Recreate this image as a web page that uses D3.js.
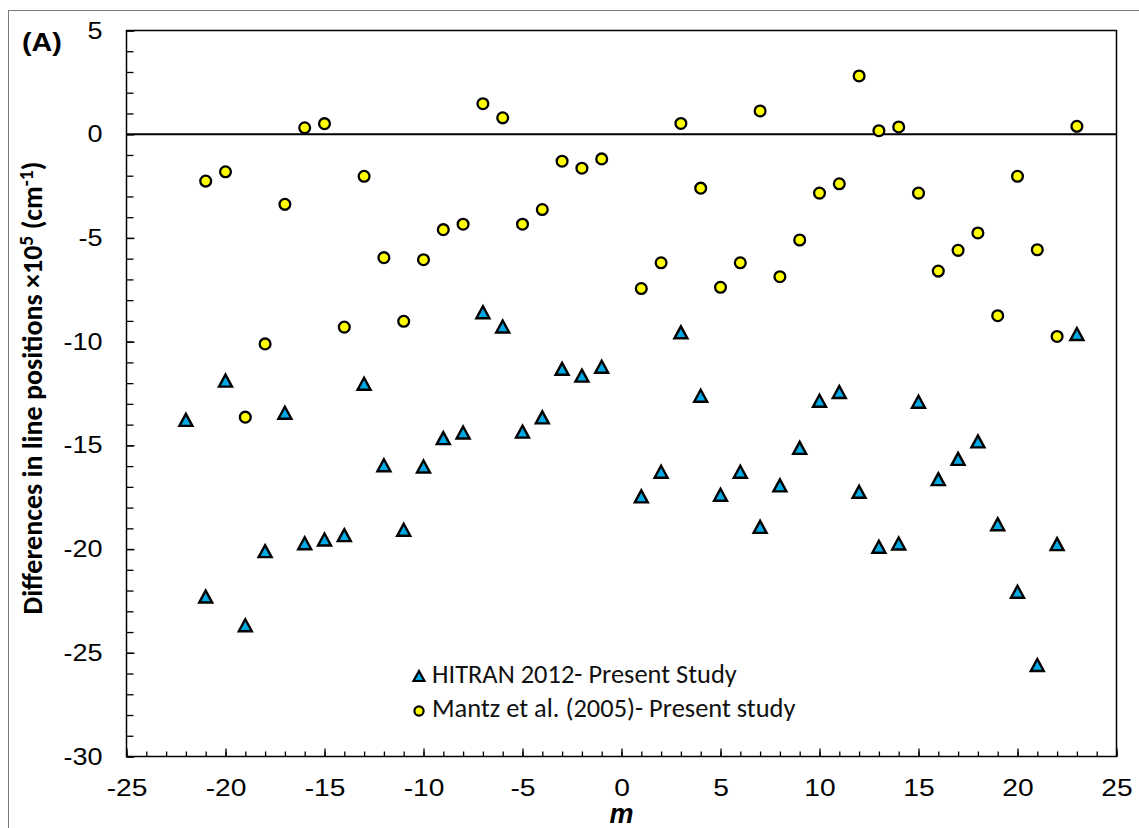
<!DOCTYPE html>
<html>
<head>
<meta charset="utf-8">
<script src="https://cdn.jsdelivr.net/npm/d3@7"></script>
<style>
  html, body { margin: 0; padding: 0; background: #fff; }
  svg { display: block; }
</style>
</head>
<body>
<svg id="chart" width="1139" height="828"></svg>
<script>
// ---- data ----
const hitranM = [-22,-21,-20,-19,-18,-17,-16,-15,-14,-13,-12,-11,-10,-9,-8,-7,-6,-5,-4,-3,-2,-1,
                 1,2,3,4,5,6,7,8,9,10,11,12,13,14,15,16,17,18,19,20,21,22,23];
const hitranDiff = [-13.77,-22.29,-11.88,-23.67,-20.10,-13.43,-19.72,-19.54,-19.33,-12.03,-15.96,-19.07,-16.02,-14.65,-14.38,-8.58,-9.27,-14.34,-13.65,-11.31,-11.64,-11.21,
                    -17.46,-16.27,-9.55,-12.61,-17.38,-16.27,-18.93,-16.93,-15.12,-12.85,-12.43,-17.24,-19.89,-19.73,-12.90,-16.63,-15.65,-14.81,-18.80,-22.06,-25.59,-19.76,-9.63];
const mantzM = [-21,-20,-19,-18,-17,-16,-15,-14,-13,-12,-11,-10,-9,-8,-7,-6,-5,-4,-3,-2,-1,
                1,2,3,4,5,6,7,8,9,10,11,12,13,14,15,16,17,18,19,20,21,22,23];
const mantzDiff = [-2.26,-1.81,-13.64,-10.11,-3.38,0.31,0.51,-9.30,-2.03,-5.95,-9.02,-6.05,-4.60,-4.34,1.47,0.79,-4.34,-3.63,-1.30,-1.64,-1.19,
                   -7.44,-6.20,0.52,-2.60,-7.38,-6.20,1.12,-6.87,-5.10,-2.84,-2.39,2.81,0.17,0.35,-2.84,-6.60,-5.60,-4.76,-8.75,-2.03,-5.57,-9.75,0.38];
const xTicks = [-25,-20,-15,-10,-5,0,5,10,15,20,25];
const yTicks = [5,0,-5,-10,-15,-20,-25,-30];
const seriesNames = ["HITRAN 2012- Present Study", "Mantz et al. (2005)- Present study"];

// ---- layout ----
const svg = d3.select("#chart");
const L = 126.5, R = 1116.5, T = 30.5, B = 756.5;
const x = d3.scaleLinear().domain([-25, 25]).range([L, R]);
const y = d3.scaleLinear().domain([-30, 5]).range([B, T]);
const SX = 1.15; // horizontal stretch of the tick label glyphs

// outer frame
svg.append("rect").attr("x", 8.5).attr("y", 10.5).attr("width", 1200).attr("height", 900)
  .attr("fill", "none").attr("stroke", "#7a7a7a").attr("stroke-width", 1);

// plot frame
svg.append("rect").attr("x", L).attr("y", T).attr("width", R - L).attr("height", B - T)
  .attr("fill", "none").attr("stroke", "#000").attr("stroke-width", 1.5);

// x axis ticks (inward) - minor every 1, major every 5
const xAxisMinor = d3.axisBottom(x).tickValues(d3.range(-25, 26, 1)).tickSize(-5).tickFormat("");
const gxm = svg.append("g").attr("transform", `translate(0,${B})`).call(xAxisMinor);
const xAxisMajor = d3.axisBottom(x).tickValues(xTicks).tickSize(-8).tickPadding(22)
  .tickFormat(d3.format("d"));
const gx = svg.append("g").attr("transform", `translate(0,${B})`).call(xAxisMajor);
[gxm, gx].forEach(g => {
  g.select(".domain").remove();
  g.selectAll("line").attr("stroke", "#000").attr("stroke-width", 1.3);
});
gx.selectAll("text").attr("font-family", "'Liberation Sans', Arial, sans-serif")
  .attr("font-size", 24.5).attr("fill", "#000").attr("dy", "0.71em")
  .attr("transform", `scale(${SX},1)`)
  .text(d => d < 0 ? "-" + Math.abs(d) : d);

// y axis ticks (inward)
const yAxisMinor = d3.axisLeft(y).tickValues(d3.range(-30, 6, 1)).tickSize(-7).tickFormat("");
const gym = svg.append("g").attr("transform", `translate(${L},0)`).call(yAxisMinor);
const yAxisMajor = d3.axisLeft(y).tickValues(yTicks).tickSize(-8).tickPadding(24);
const gy = svg.append("g").attr("transform", `translate(${L},0)`).call(yAxisMajor);
[gym, gy].forEach(g => {
  g.select(".domain").remove();
  g.selectAll("line").attr("stroke", "#000").attr("stroke-width", 1.3);
});
gy.selectAll("text").attr("font-family", "'Liberation Sans', Arial, sans-serif")
  .attr("font-size", 23.5).attr("fill", "#000")
  .attr("x", -24 / SX).attr("transform", `scale(${SX},1)`)
  .text(d => d < 0 ? "-" + Math.abs(d) : d);

// zero line
svg.append("line").attr("x1", L).attr("x2", R).attr("y1", y(0)).attr("y2", y(0))
  .attr("stroke", "#000").attr("stroke-width", 2);

// markers
const triFill = "#00A9E4", circFill = "#FFFF00";
function triPath(w, h) {
  return `M0,${-h/2}L${w/2},${h/2}L${-w/2},${h/2}Z`;
}
svg.append("g").selectAll("path").data(hitranM.map((m, i) => [m, hitranDiff[i]]))
  .join("path")
  .attr("d", triPath(13, 12))
  .attr("transform", d => `translate(${x(d[0])},${y(d[1])})`)
  .attr("fill", triFill).attr("stroke", "#000").attr("stroke-width", 2.4)
  .attr("stroke-linejoin", "miter");

svg.append("g").selectAll("circle").data(mantzM.map((m, i) => [m, mantzDiff[i]]))
  .join("circle")
  .attr("cx", d => x(d[0])).attr("cy", d => y(d[1])).attr("r", 5.4)
  .attr("fill", circFill).attr("stroke", "#000").attr("stroke-width", 2.3);

// legend
const legFont = "Carlito, Calibri, Lato, sans-serif";
const leg = svg.append("g");
leg.append("path").attr("d", triPath(11, 10)).attr("transform", "translate(419,676)")
  .attr("fill", triFill).attr("stroke", "#000").attr("stroke-width", 2.2);
leg.append("circle").attr("cx", 419).attr("cy", 711).attr("r", 4.6)
  .attr("fill", circFill).attr("stroke", "#000").attr("stroke-width", 2.2);
const lt1 = leg.append("text").attr("x", 432).attr("y", 683).attr("font-family", legFont)
  .attr("font-size", 24).attr("fill", "#111").text(seriesNames[0]);
const lt2 = leg.append("text").attr("x", 432).attr("y", 717).attr("font-family", legFont)
  .attr("font-size", 24).attr("fill", "#111").text(seriesNames[1]);
const w1 = lt1.node().getComputedTextLength();
const legSize = 24 * 305 / w1;
lt1.attr("font-size", legSize); lt2.attr("font-size", legSize);

// (A)
svg.append("text").attr("x", 22 / SX).attr("y", 51).attr("transform", `scale(${SX},1)`)
  .attr("font-family", "'Liberation Sans', Arial, sans-serif").attr("font-weight", "bold")
  .attr("font-size", 25).attr("fill", "#000").text("(A)");

// x title
svg.append("text").attr("x", x(0)).attr("y", 823).attr("text-anchor", "middle")
  .attr("font-family", "'Liberation Sans', Arial, sans-serif").attr("font-weight", "bold")
  .attr("font-style", "italic").attr("font-size", 27).attr("fill", "#000").text("m");

// y title
const yt = svg.append("text")
  .attr("transform", "translate(42,388) rotate(-90)")
  .attr("text-anchor", "middle")
  .attr("font-family", legFont).attr("font-weight", "bold")
  .attr("font-size", 24).attr("fill", "#000");
yt.append("tspan").text("Differences in line positions \u00D710");
yt.append("tspan").attr("dy", -9).attr("font-size", "70%").text("5");
yt.append("tspan").attr("dy", 9).text(" (cm");
yt.append("tspan").attr("dy", -9).attr("font-size", "70%").text("-1");
yt.append("tspan").attr("dy", 9).text(")");
const ywid = yt.node().getComputedTextLength();
const ySize = Math.min(28, 24 * 598 / ywid);
yt.attr("font-size", ySize);
</script>
</body>
</html>
